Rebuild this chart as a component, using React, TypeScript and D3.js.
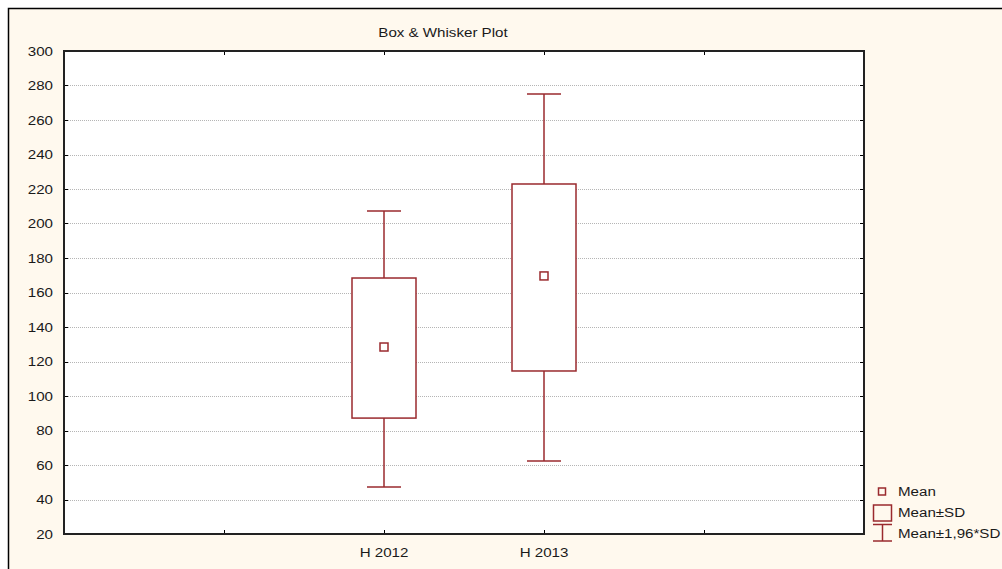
import React from "react";
import * as d3 from "d3";

const categories = ["", "H 2012", "H 2013", ""];
const means = [128.4, 169.6];
const sdLow = [87.2, 114.5];
const sdHigh = [168.4, 222.9];
const ciLow = [47.2, 62.3];
const ciHigh = [207.2, 275.1];
const seriesCats = ["H 2012", "H 2013"];
const yTicks = [20, 40, 60, 80, 100, 120, 140, 160, 180, 200, 220, 240, 260, 280, 300];
const legendLabels = ["Mean", "Mean±SD", "Mean±1,96*SD"];

const W = 1002, H = 569;
const L = 64, R = 864, T = 51, B = 534;
const RED = "#9A2A2E";
const FONT = "Arial, 'Liberation Sans', sans-serif";
const SX = 1.23;

function Txt({ x, y, anchor = "start", children }: { x: number; y: number; anchor?: string; children: React.ReactNode }) {
  return (
    <text transform={`translate(${x},${y}) scale(${SX},1)`} textAnchor={anchor as any} fontSize={12.3} fill="#1a1a1a">
      {children}
    </text>
  );
}

export default function App() {
  const x = d3.scaleLinear().domain([0, categories.length + 1]).range([L, R]);
  const y = d3.scaleLinear().domain([20, 300]).range([B, T]);
  const pos = (c: string) => categories.indexOf(c) + 1;
  const boxW = 64, capW = 34, mk = 8;

  return (
    <div style={{ position: "absolute", left: 0, top: 0 }}>
      <svg width={W} height={H} style={{ display: "block", fontFamily: FONT }}>
        <rect x={0} y={0} width={W} height={H} fill="#FFFFFF" />
        <rect x={8.5} y={8.5} width={W + 10} height={H + 10} fill="#FFF9EE" stroke="#000" strokeWidth={1.5} />
        <rect x={L} y={T} width={R - L} height={B - T} fill="#FFFFFF" />
        {yTicks.filter(v => v > 20 && v < 300).map(v => (
          <line key={"g" + v} x1={L} x2={R} y1={Math.round(y(v)) + 0.5} y2={Math.round(y(v)) + 0.5}
            stroke="#B5B5B5" strokeWidth={1} strokeDasharray="1,1" />
        ))}
        {yTicks.map(v => (
          <g key={"t" + v}>
            <line x1={L} x2={L + 4} y1={Math.round(y(v)) + 0.5} y2={Math.round(y(v)) + 0.5} stroke="#000" />
            <line x1={R - 4} x2={R} y1={Math.round(y(v)) + 0.5} y2={Math.round(y(v)) + 0.5} stroke="#000" />
            <Txt x={53} y={y(v) + 4.5} anchor="end">{v}</Txt>
          </g>
        ))}
        {categories.map((c, i) => (
          <g key={"x" + i}>
            <line x1={x(i + 1) + 0.5} x2={x(i + 1) + 0.5} y1={B} y2={B - 4} stroke="#000" />
            <line x1={x(i + 1) + 0.5} x2={x(i + 1) + 0.5} y1={T} y2={T + 4} stroke="#000" />
            {c && <Txt x={x(i + 1)} y={557} anchor="middle">{c}</Txt>}
          </g>
        ))}
        <rect x={L} y={T} width={R - L} height={B - T} fill="none" stroke="#222" strokeWidth={2} />
        {seriesCats.map((c, i) => {
          const cx = x(pos(c));
          return (
            <g key={"b" + c} stroke={RED} fill="none">
              <line x1={cx} x2={cx} y1={y(ciHigh[i])} y2={y(sdHigh[i])} strokeWidth={1.5} />
              <line x1={cx} x2={cx} y1={y(sdLow[i])} y2={y(ciLow[i])} strokeWidth={1.5} />
              <line x1={cx - capW / 2} x2={cx + capW / 2} y1={y(ciHigh[i])} y2={y(ciHigh[i])} strokeWidth={1.5} />
              <line x1={cx - capW / 2} x2={cx + capW / 2} y1={y(ciLow[i])} y2={y(ciLow[i])} strokeWidth={1.5} />
              <rect x={cx - boxW / 2} y={y(sdHigh[i])} width={boxW} height={y(sdLow[i]) - y(sdHigh[i])} fill="#fff" strokeWidth={1.5} />
              <rect x={cx - mk / 2} y={y(means[i]) - mk / 2} width={mk} height={mk} fill="#fff" strokeWidth={1.5} />
            </g>
          );
        })}
        <Txt x={443} y={37} anchor="middle">Box &amp; Whisker Plot</Txt>
        <g stroke={RED} fill="none" strokeWidth={1.5}>
          <rect x={878.5} y={488} width={7} height={7} />
          <rect x={873.5} y={505} width={18} height={16} />
          <line x1={873} x2={892} y1={524.5} y2={524.5} />
          <line x1={882.5} x2={882.5} y1={524.5} y2={541} />
          <line x1={873} x2={892} y1={541} y2={541} />
        </g>
        {legendLabels.map((t, i) => (
          <Txt key={t} x={898} y={496 + i * 21}>{t}</Txt>
        ))}
      </svg>
    </div>
  );
}
